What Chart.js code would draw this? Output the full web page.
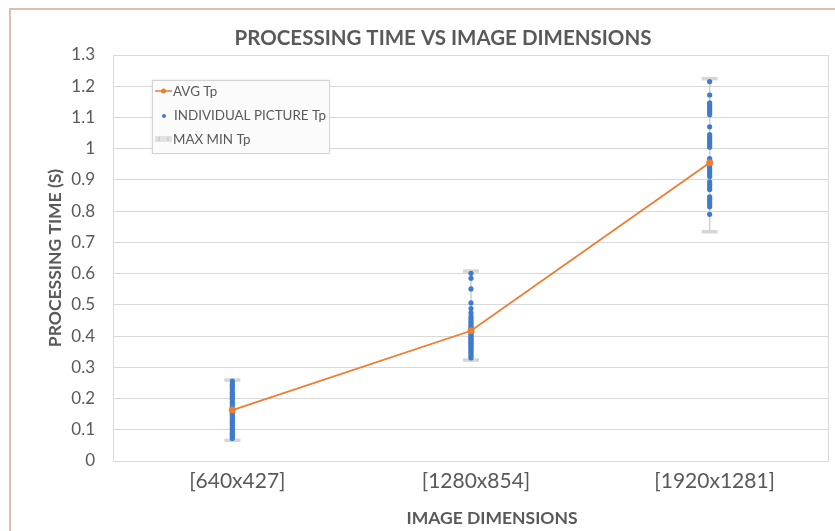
<!DOCTYPE html>
<html>
<head>
<meta charset="utf-8">
<script src="https://cdn.jsdelivr.net/npm/chart.js@4/dist/chart.umd.min.js"></script>
<style>
  html, body { margin: 0; padding: 0; background: #ffffff; }
  #wrap { width: 835px; height: 531px; position: relative; }
</style>
</head>
<body>
<div id="wrap"><canvas id="c" width="835" height="531"></canvas></div>
<script>
// Categories (image sizes)
const categories = ['[640x427]', '[1280x854]', '[1920x1281]'];

// Average processing time per size (s)
const avgTp = [0.163, 0.417, 0.955];

// Max / min processing time per size (s)
const maxTp = [0.26, 0.609, 1.225];
const minTp = [0.067, 0.324, 0.735];

// Individual picture processing times (s)
const tp640 = [0.256, 0.247, 0.242, 0.236, 0.228, 0.22, 0.214, 0.207, 0.2, 0.196, 0.188, 0.18,
  0.172, 0.165, 0.158, 0.152, 0.146, 0.139, 0.133, 0.127, 0.121, 0.116, 0.11, 0.104, 0.099,
  0.093, 0.088, 0.083, 0.079, 0.072];
const tp1280 = [0.601, 0.585, 0.551, 0.506, 0.488, 0.474, 0.462, 0.455, 0.447, 0.44, 0.434,
  0.428, 0.423, 0.418, 0.413, 0.409, 0.404, 0.399, 0.394, 0.39, 0.385, 0.38, 0.376, 0.371,
  0.366, 0.361, 0.355, 0.349, 0.343, 0.336, 0.33];
const tp1920 = [1.215, 1.172, 1.147, 1.14, 1.132, 1.124, 1.117, 1.109, 1.07, 1.045, 1.037,
  1.028, 1.02, 1.012, 1.005, 0.968, 0.962, 0.955, 0.948, 0.94, 0.932, 0.925, 0.918, 0.911,
  0.894, 0.886, 0.877, 0.869, 0.846, 0.838, 0.83, 0.822, 0.814, 0.79];

// Y axis tick values
const yTicks = [0, 0.1, 0.2, 0.3, 0.4, 0.5, 0.6, 0.7, 0.8, 0.9, 1, 1.1, 1.2, 1.3];

const TEXT = '#595959';
const FONT = 'Lato, "Open Sans", sans-serif';
const ORANGE = '#ED7D31';
const BLUE = '#3E7CCB';

const individualPoints = []
  .concat(tp640.map(v => ({ x: categories[0], y: v })))
  .concat(tp1280.map(v => ({ x: categories[1], y: v })))
  .concat(tp1920.map(v => ({ x: categories[2], y: v })));

// Max/min whiskers drawn behind the datasets, using the chart's scales
const whiskers = {
  id: 'whiskers',
  beforeDatasetsDraw(chart) {
    const { ctx, scales: { x, y } } = chart;
    ctx.save();
    categories.forEach((cat, i) => {
      const px = x.getPixelForValue(i);
      const top = y.getPixelForValue(maxTp[i]);
      const bot = y.getPixelForValue(minTp[i]);
      ctx.strokeStyle = '#cfcfcf';
      ctx.lineWidth = 1.5;
      ctx.beginPath();
      ctx.moveTo(px, top);
      ctx.lineTo(px, bot);
      ctx.stroke();
      ctx.fillStyle = '#d6d6d6';
      ctx.fillRect(px - 8, top - 1.5, 16, 3.5);
      ctx.fillRect(px - 8, bot - 1.5, 16, 3.5);
    });
    ctx.restore();
  }
};

// Frame, titles and legend box
const decorations = {
  id: 'decorations',
  beforeDraw(chart) {
    const { ctx } = chart;
    ctx.save();
    ctx.fillStyle = '#ffffff';
    ctx.fillRect(0, 0, chart.width, chart.height);
    ctx.strokeStyle = '#DDBFAD';
    ctx.lineWidth = 2;
    ctx.beginPath();
    ctx.moveTo(10, chart.height + 5);
    ctx.lineTo(10, 9);
    ctx.lineTo(chart.width + 5, 9);
    ctx.stroke();
    ctx.restore();
  },
  afterDatasetsDraw(chart) {
    const { ctx, chartArea } = chart;
    ctx.save();
    // plot area outline
    ctx.strokeStyle = '#d9d9d9';
    ctx.lineWidth = 1;
    ctx.strokeRect(chartArea.left + 0.5, chartArea.top + 0.5,
      chartArea.right - chartArea.left - 1, chartArea.bottom - chartArea.top);

    // titles
    ctx.fillStyle = TEXT;
    ctx.textAlign = 'center';
    ctx.textBaseline = 'middle';
    ctx.font = 'bold 20.5px ' + FONT;
    ctx.fillText('PROCESSING TIME VS IMAGE DIMENSIONS', 443, 38);
    ctx.font = 'bold 17.5px ' + FONT;
    ctx.fillText('IMAGE DIMENSIONS', 492, 518);
    ctx.translate(55, 258);
    ctx.rotate(-Math.PI / 2);
    ctx.fillText('PROCESSING TIME (S)', 0, 0);
    ctx.setTransform(1, 0, 0, 1, 0, 0);

    // legend
    const lx = 152, ly = 80, lw = 177, lh = 73;
    ctx.shadowColor = 'rgba(0,0,0,0.12)';
    ctx.shadowBlur = 3;
    ctx.fillStyle = '#fbfbfb';
    ctx.fillRect(lx, ly, lw, lh);
    ctx.shadowColor = 'transparent';
    ctx.strokeStyle = '#d4d4d4';
    ctx.strokeRect(lx + 0.5, ly + 0.5, lw, lh);

    // AVG Tp
    ctx.strokeStyle = ORANGE;
    ctx.lineWidth = 1.5;
    ctx.beginPath();
    ctx.moveTo(155, 91); ctx.lineTo(172, 91); ctx.stroke();
    ctx.fillStyle = ORANGE;
    ctx.beginPath(); ctx.arc(163.5, 91, 2.5, 0, Math.PI * 2); ctx.fill();
    // INDIVIDUAL PICTURE Tp
    ctx.fillStyle = BLUE;
    ctx.beginPath(); ctx.arc(164, 116, 2, 0, Math.PI * 2); ctx.fill();
    // MAX MIN Tp
    ctx.fillStyle = '#e2e2e2';
    ctx.fillRect(155, 136, 17, 6);
    ctx.fillStyle = '#cfcfcf';
    ctx.fillRect(158, 137, 2, 4);
    ctx.fillRect(167, 137, 2, 4);

    ctx.fillStyle = TEXT;
    ctx.textAlign = 'left';
    ctx.font = '13.4px ' + FONT;
    ctx.fillText('AVG Tp', 173, 92);
    ctx.fillText('INDIVIDUAL PICTURE Tp', 174, 116);
    ctx.fillText('MAX MIN Tp', 173, 140);
    ctx.restore();
  }
};

new Chart(document.getElementById('c'), {
  data: {
    labels: categories,
    datasets: [
      {
        type: 'line',
        label: 'AVG Tp',
        data: avgTp,
        borderColor: ORANGE,
        backgroundColor: ORANGE,
        borderWidth: 1.8,
        pointRadius: 3.5,
        pointBorderWidth: 0,
        tension: 0,
        order: 0
      },
      {
        type: 'line',
        label: 'INDIVIDUAL PICTURE Tp',
        data: individualPoints,
        showLine: false,
        pointRadius: 2.6,
        pointBorderWidth: 0,
        backgroundColor: BLUE,
        borderColor: BLUE,
        order: 1
      }
    ]
  },
  plugins: [decorations, whiskers],
  options: {
    responsive: false,
    animation: false,
    layout: { padding: { left: 0, top: 55, right: 6, bottom: 0 } },
    plugins: {
      legend: { display: false },
      title: { display: false },
      tooltip: { enabled: false }
    },
    scales: {
      x: {
        type: 'category',
        offset: true,
        grid: { display: false, drawTicks: false },
        border: { display: false },
        ticks: { color: TEXT, font: { family: FONT, size: 21 }, padding: 8, labelOffset: 5 },
        afterFit(s) { s.height = 70; }
      },
      y: {
        min: 0,
        max: 1.3,
        afterBuildTicks(s) { s.ticks = yTicks.map(v => ({ value: v })); },
        grid: { color: '#d9d9d9', drawTicks: false },
        border: { display: false },
        ticks: {
          color: TEXT,
          font: { family: FONT, size: 17 },
          padding: 18,
          callback: v => String(Math.round(v * 10) / 10)
        },
        afterFit(s) { s.width = 113; }
      }
    }
  }
});
</script>
</body>
</html>
